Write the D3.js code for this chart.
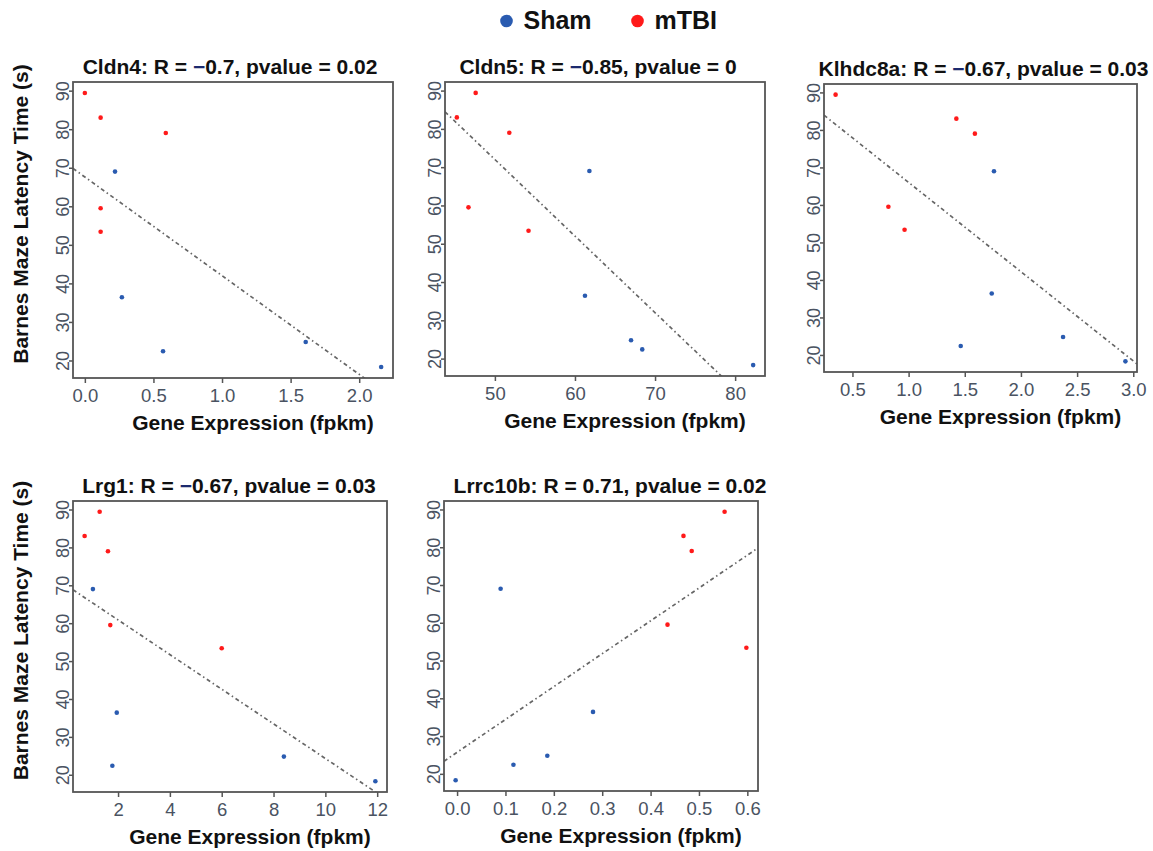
<!DOCTYPE html>
<html><head><meta charset="utf-8">
<script src="https://cdn.jsdelivr.net/npm/d3@7"></script>
<style>body{margin:0;background:#fff} svg{display:block}</style>
</head><body>
<svg id="chart" width="1153" height="851"></svg>
<script>
// ---------- data ----------
const genes = ["Cldn4", "Cldn5", "Klhdc8a", "Lrg1", "Lrrc10b"];
const rValues = [-0.7, -0.85, -0.67, -0.67, 0.71];
const pValues = ["0.02", "0", "0.03", "0.03", "0.02"];
const groups = ["mTBI","mTBI","mTBI","mTBI","mTBI","Sham","Sham","Sham","Sham","Sham"];
const latency = [89.4, 83.0, 79.0, 59.5, 53.4, 69.0, 36.4, 22.4, 24.8, 18.3];
const exprCldn4   = [0.0, 0.115, 0.59, 0.115, 0.115, 0.22, 0.27, 0.57, 1.61, 2.16];
const exprCldn5   = [47.6, 45.25, 51.8, 46.7, 54.2, 61.8, 61.25, 68.4, 67.0, 82.25];
const exprKlhdc8a = [0.35, 1.425, 1.59, 0.82, 0.964, 1.76, 1.74, 1.464, 2.375, 2.93];
const exprLrg1    = [1.29, 0.71, 1.61, 1.70, 6.0, 1.03, 1.95, 1.78, 8.40, 11.93];
const exprLrrc10b = [0.553, 0.468, 0.485, 0.435, 0.598, 0.09, 0.281, 0.1165, 0.1865, -0.003];
const fitIntercept = [67.6, 172, 89.8, 70.0, 25.7];
const fitSlope = [-25.6, -2.0, -23.8, -4.57, 87.0];
const xTicks = [[0,0.5,1,1.5,2],[50,60,70,80],[0.5,1,1.5,2,2.5,3],[2,4,6,8,10,12],[0,0.1,0.2,0.3,0.4,0.5,0.6]];
const xTickFormats = [".1f", "d", ".1f", "d", ".1f"];
const yTicks = [20, 30, 40, 50, 60, 70, 80, 90];
const legendLabels = ["Sham", "mTBI"];
const xTitle = "Gene Expression (fpkm)";
const yTitle = "Barnes Maze Latency Time (s)";

// ---------- layout / style ----------
const exprs = [exprCldn4, exprCldn5, exprKlhdc8a, exprLrg1, exprLrrc10b];
const boxes = [
  {x0: 73,  y0: 82,  x1: 393,  y1: 378, tdx: -3, ylab: true},
  {x0: 445, y0: 82,  x1: 765,  y1: 376, tdx: -7, ylab: false},
  {x0: 824, y0: 84,  x1: 1137, y1: 372, tdx: 3,  ylab: false},
  {x0: 73,  y0: 501, x1: 387,  y1: 792, tdx: -1, ylab: true},
  {x0: 444, y0: 501, x1: 758,  y1: 791, tdx: 9,  ylab: false}
];
const colors = {Sham: "#2a5bb0", mTBI: "#ff1a1a"};
const FONT = "'Liberation Sans', Arial, Helvetica, sans-serif";
const tickColor = "#4a5362";
const frameColor = "#555";

const svg = d3.select("#chart").style("font-family", FONT);

function padExtent(arr) {
  const e = d3.extent(arr), d = (e[1] - e[0]) * 0.04;
  return [e[0] - d, e[1] + d];
}

genes.forEach((gene, i) => {
  const b = boxes[i];
  const xs = exprs[i];
  const x = d3.scaleLinear().domain(padExtent(xs)).range([b.x0, b.x1]);
  const y = d3.scaleLinear().domain(padExtent(latency)).range([b.y1, b.y0]);
  const g = svg.append("g");

  const clipId = "clip" + i;
  svg.append("clipPath").attr("id", clipId).append("rect")
    .attr("x", b.x0).attr("y", b.y0).attr("width", b.x1 - b.x0).attr("height", b.y1 - b.y0);

  // x axis
  const xAxis = d3.axisBottom(x).tickValues(xTicks[i]).tickFormat(d3.format(xTickFormats[i]))
    .tickSize(5).tickPadding(6);
  const xa = g.append("g").attr("transform", `translate(0,${b.y1})`).call(xAxis);
  xa.select(".domain").remove();
  xa.selectAll(".tick line").attr("stroke", frameColor).attr("stroke-width", 1.5);
  xa.selectAll(".tick text").attr("fill", tickColor).attr("font-size", 18.5)
    .attr("font-family", FONT).attr("dy", null).attr("y", 24);

  // y axis
  const yAxis = d3.axisLeft(y).tickValues(yTicks).tickSize(4);
  const ya = g.append("g").attr("transform", `translate(${b.x0},0)`).call(yAxis);
  ya.select(".domain").remove();
  ya.selectAll(".tick line").attr("stroke", frameColor).attr("stroke-width", 1.5);
  ya.selectAll(".tick text").attr("fill", tickColor).attr("font-size", 18)
    .attr("font-family", FONT)
    .attr("x", null).attr("dy", null).attr("text-anchor", "middle")
    .attr("transform", "translate(-4,0) rotate(-90)");

  // regression line
  const xd = x.domain();
  g.append("line")
    .attr("clip-path", `url(#${clipId})`)
    .attr("x1", x(xd[0])).attr("y1", y(fitIntercept[i] + fitSlope[i] * xd[0]))
    .attr("x2", x(xd[1])).attr("y2", y(fitIntercept[i] + fitSlope[i] * xd[1]))
    .attr("stroke", "#666").attr("stroke-width", 1.7)
    .attr("stroke-dasharray", "4,3,1.5,3");

  // points
  g.selectAll("circle.pt").data(xs.map((v, k) => ({x: v, y: latency[k], grp: groups[k]})))
    .join("circle").attr("class", "pt")
    .attr("cx", d => x(d.x)).attr("cy", d => y(d.y)).attr("r", 2.3)
    .attr("fill", d => colors[d.grp]);

  // frame
  g.append("rect").attr("x", b.x0).attr("y", b.y0)
    .attr("width", b.x1 - b.x0).attr("height", b.y1 - b.y0)
    .attr("fill", "none").attr("stroke", frameColor).attr("stroke-width", 1.8);

  // title
  const r = rValues[i];
  const t = g.append("text").attr("x", (b.x0 + b.x1) / 2 + b.tdx).attr("y", b.y0 - 8)
    .attr("text-anchor", "middle").attr("font-size", 21).attr("font-weight", "bold").attr("fill", "#111");
  t.append("tspan").text(`${gene}: R = `);
  if (r < 0) t.append("tspan").attr("fill", "#1c2a6e").text("\u2212");
  t.append("tspan").text(`${Math.abs(r)}, pvalue = ${pValues[i]}`);

  // x title
  g.append("text").attr("x", (b.x0 + b.x1) / 2 + 20).attr("y", b.y1 + 52)
    .attr("text-anchor", "middle").attr("font-size", 21).attr("font-weight", "bold").attr("fill", "#111")
    .text(xTitle);

  // y title
  if (b.ylab) {
    const cy = (b.y0 + b.y1) / 2 - 16;
    g.append("text").attr("transform", `translate(28,${cy}) rotate(-90)`)
      .attr("text-anchor", "middle").attr("font-size", 21).attr("font-weight", "bold").attr("fill", "#111")
      .text(yTitle);
  }
});

// legend
const legX = [506.5, 637.5];
legendLabels.forEach((lab, k) => {
  svg.append("circle").attr("cx", legX[k]).attr("cy", 21).attr("r", 6.3).attr("fill", colors[lab]);
  svg.append("text").attr("x", legX[k] + 17).attr("y", 28.5)
    .attr("font-size", 25).attr("font-weight", "bold").attr("fill", "#111").text(lab);
});
</script>
</body></html>
